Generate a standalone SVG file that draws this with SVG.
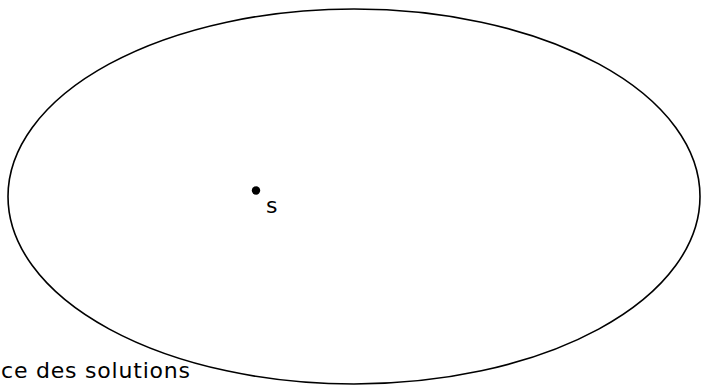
<svg xmlns="http://www.w3.org/2000/svg" width="701" height="386" viewBox="0 0 701 386">
<style>
text { font-family: "DejaVu Sans", "Liberation Sans", sans-serif; font-size: 22px; fill: #000; }
</style>
<rect width="701" height="386" fill="#fff"/>
<g id="space">
<ellipse cx="354" cy="196.5" rx="346" ry="187.5" fill="none" stroke="#000" stroke-width="1.6"/>
<text x="1" y="378" textLength="189" lengthAdjust="spacing">ce des solutions</text>
</g>
<g id="s">
<circle cx="256" cy="190.5" r="4.2" fill="#000"/>
<text x="266" y="213">s</text>
</g>
</svg>
